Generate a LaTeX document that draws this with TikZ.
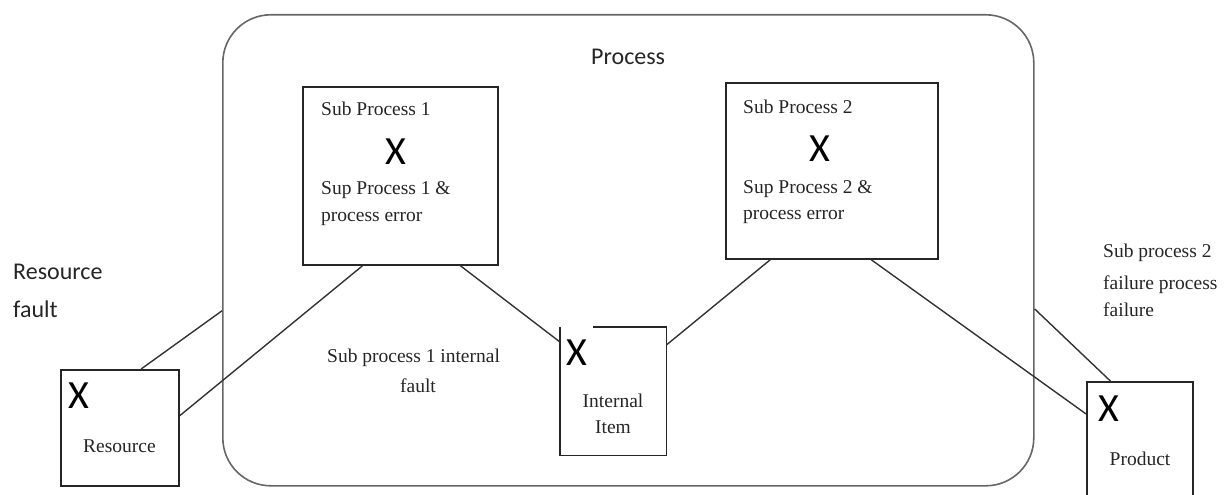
\documentclass[tikz,border=0pt]{standalone}
\usepackage{fontspec}
\newfontfamily\seriff{Liberation Serif}
\newfontfamily\sansf{Carlito}
\usetikzlibrary{calc}
\begin{document}
\begin{tikzpicture}[x=1pt,y=-1pt,
  boxnode/.style={draw=black!85,line width=1.7pt,inner sep=0pt,anchor=north west},
  conn/.style={draw=black!80,line width=1.4pt},
  sertext/.style={font=\seriff\fontsize{19.5}{27}\selectfont,text=black!85,inner sep=0pt,anchor=base west},
  santext/.style={font=\sansf\fontsize{24}{30}\selectfont,text=black!85,inner sep=0pt,anchor=base west},
  xmark/.style={font=\sansf\fontsize{40}{40}\selectfont,text=black,inner sep=0pt,anchor=base west}]
\clip (0,0) rectangle (1227,495);
\fill[white] (0,0) rectangle (1227,495);
% main process box
\node[draw=black!60,line width=1.6pt,rounded corners=48pt,minimum width=811pt,minimum height=471pt,inner sep=0pt,anchor=north west] (proc) at (222,14) {};
\node[santext] (proclbl) at (591,65) {Process};
% boxes
\node[boxnode,minimum width=195pt,minimum height=178pt] (sp1) at (302,86) {};
\node[boxnode,minimum width=212pt,minimum height=176pt] (sp2) at (725,82) {};
\node[boxnode,minimum width=118pt,minimum height=116pt] (res) at (60,369) {};
\node[boxnode,minimum width=106pt,minimum height=130pt] (prod) at (1086,381) {};
\node[inner sep=0pt,minimum width=106pt,minimum height=128pt,anchor=north west] (int) at (560,327) {};
\draw[draw=black!85,line width=1.7pt] ($(int.north west)+(33,0)$) -- (int.north east) -- (int.south east) -- (int.south west) -- (int.north west);
% sub process 1 texts
\node[sertext] (sp1a) at (321,115.5) {Sub Process 1};
\node[xmark] (sp1x) at (385,164) {X};
\node[sertext] (sp1b) at (321,194) {Sup Process 1 \&};
\node[sertext] (sp1c) at (321,221.5) {process error};
% sub process 2 texts
\node[sertext] (sp2a) at (743,113.3) {Sub Process 2};
\node[xmark] (sp2x) at (809,161.7) {X};
\node[sertext] (sp2b) at (743,193.3) {Sup Process 2 \&};
\node[sertext] (sp2c) at (743,219.3) {process error};
% resource
\node[xmark] (resx) at (68,408.3) {X};
\node[sertext,anchor=base] (resl) at (119.5,452.7) {Resource};
\node[santext] (rf1) at (13,279.3) {Resource};
\node[santext] (rf2) at (13,317.3) {fault};
% internal item
\node[xmark] (intx) at (566,365) {X};
\node[sertext,anchor=base] (intl1) at (613,407.3) {Internal};
\node[sertext,anchor=base] (intl2) at (613,433.3) {Item};
% product
\node[xmark] (prodx) at (1098,421.7) {X};
\node[sertext,anchor=base] (prodl) at (1140,465) {Product};
% free labels
\node[sertext] (spf1) at (327,362) {Sub process 1 internal};
\node[sertext,anchor=base] (spf2) at (418,392) {fault};
\node[sertext] (f2a) at (1103,257.3) {Sub process 2};
\node[sertext] (f2b) at (1103,289) {failure process};
\node[sertext] (f2c) at (1103,316.7) {failure};
% connectors
\draw[conn] ($(res.north west)!0.678!(res.north east)$) -- ($(proc.north west)!0.628!(proc.south west)$);
\draw[conn] ($(res.north east)!0.397!(res.south east)$) -- ($(sp1.south west)!0.308!(sp1.south east)$);
\draw[conn] ($(sp1.south west)!0.805!(sp1.south east)$) -- ($(int.north west)!0.117!(int.south west)$);
\draw[conn] ($(int.north east)!0.14!(int.south east)$) -- ($(sp2.south west)!0.212!(sp2.south east)$);
\draw[conn] ($(sp2.south west)!0.684!(sp2.south east)$) -- ($(prod.north west)!0.25!(prod.south west)$);
\draw[conn] ($(proc.north east)!0.624!(proc.south east)$) -- ($(prod.north west)!0.226!(prod.north east)$);
\end{tikzpicture}
\end{document}
